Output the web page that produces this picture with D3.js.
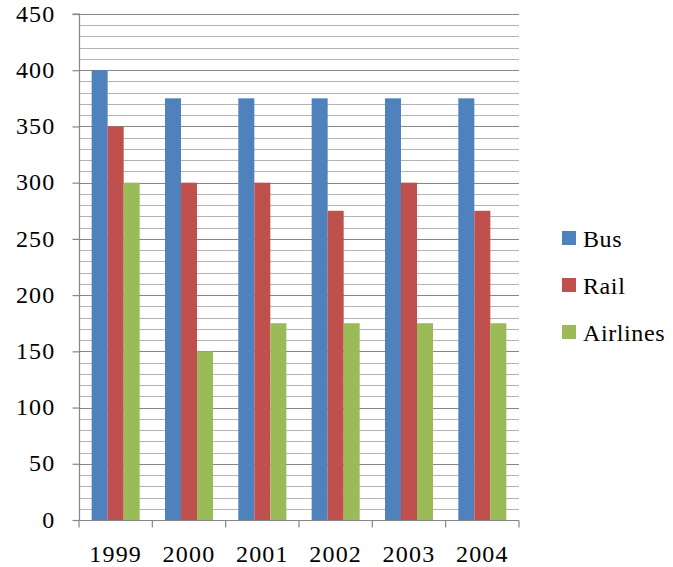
<!DOCTYPE html>
<html><head><meta charset="utf-8">
<script src="https://cdn.jsdelivr.net/npm/d3@7"></script>
<style>body{margin:0;background:#fff}text{font-family:"Liberation Serif",serif;fill:#000}</style>
</head><body>
<svg id="c" width="673" height="567"></svg>
<script>
const categories = ["1999","2000","2001","2002","2003","2004"];
const seriesNames = ["Bus","Rail","Airlines"];
const bus = [400,375,375,375,375,375];
const rail = [350,300,300,275,300,275];
const airlines = [300,150,175,175,175,175];
const yTicks = [0,50,100,150,200,250,300,350,400,450];
const colors = ["#4F81BD","#C0504D","#9BBB59"];
const seriesData = [bus, rail, airlines];

const svg = d3.select("#c");
const L = 79, R = 519, T = 14, B = 520;
const y = d3.scaleLinear().domain([0,450]).range([B,T]);
const x0 = d3.scaleBand().domain(categories).range([L,R]).padding(0);
const bw = x0.bandwidth();
const gap = bw*0.345;
const x1 = d3.scaleBand().domain(seriesNames).range([gap/2, bw-gap/2]).padding(0);

const minor = d3.range(0,451,10).filter(v => v%50 !== 0);
svg.append("g").selectAll("line").data(minor).join("line")
  .attr("x1",L).attr("x2",R).attr("y1",d=>Math.round(y(d))+0.5).attr("y2",d=>Math.round(y(d))+0.5)
  .attr("stroke","#b4b4b4").attr("stroke-width",1);
svg.append("g").selectAll("line").data(yTicks.filter(v=>v>0)).join("line")
  .attr("x1",L).attr("x2",R).attr("y1",d=>Math.round(y(d))+0.5).attr("y2",d=>Math.round(y(d))+0.5)
  .attr("stroke","#868686").attr("stroke-width",1.2);

const g = svg.append("g");
seriesData.forEach((vals,si)=>{
  g.append("g").selectAll("rect").data(vals).join("rect")
    .attr("x",(d,i)=>x0(categories[i])+x1(seriesNames[si]))
    .attr("width",x1.bandwidth())
    .attr("y",d=>y(d)).attr("height",d=>B-y(d))
    .attr("fill",colors[si]);
});

const yAxis = d3.axisLeft(y).tickValues(yTicks).tickSize(7).tickPadding(17);
const ya = svg.append("g").attr("transform",`translate(${L+0.5},0)`).call(yAxis);
ya.select(".domain").attr("stroke","#868686").attr("stroke-width",1.2).attr("d",`M-7,${T}H0V${B}`);
ya.selectAll(".tick line").attr("stroke","#868686").attr("stroke-width",1.2);
ya.selectAll(".tick text").style("font-size","24px").style("letter-spacing","1.2px").attr("fill","#000").attr("dy","0.3em");

const xAxis = d3.axisBottom(x0).tickSize(0).tickPadding(24);
const xa = svg.append("g").attr("transform",`translate(0,${B+0.5})`).call(xAxis);
xa.select(".domain").attr("stroke","#868686").attr("stroke-width",1.2).attr("d",`M${L},0H${R}`);
xa.selectAll(".tick text").style("font-size","24px").style("letter-spacing","1.2px").attr("fill","#000");
const bounds = categories.map(c=>x0(c)).concat([R]);
xa.append("g").selectAll("line").data(bounds).join("line")
  .attr("x1",d=>d).attr("x2",d=>d).attr("y1",0).attr("y2",7)
  .attr("stroke","#868686").attr("stroke-width",1.2);

const lg = svg.append("g").attr("transform","translate(562,231)");
seriesNames.forEach((n,i)=>{
  const gi = lg.append("g").attr("transform",`translate(0,${i*47})`);
  gi.append("rect").attr("width",14).attr("height",14).attr("fill",colors[i]);
  gi.append("text").attr("x",21).attr("y",16).style("font-size","24px").style("letter-spacing","0.6px").text(n);
});
</script>
</body></html>
